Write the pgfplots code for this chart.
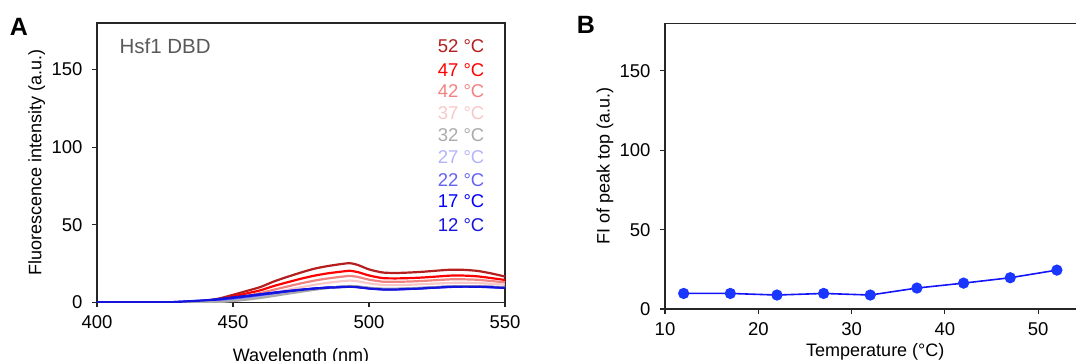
\documentclass[border=0pt]{standalone}
\usepackage{pgfplots}
\pgfplotsset{compat=1.18}
\usepackage{fontspec}
\setmainfont{Liberation Sans}
\definecolor{c52}{RGB}{180,30,30}
\definecolor{c47}{RGB}{255,0,0}
\definecolor{c42}{RGB}{240,130,130}
\definecolor{c37}{RGB}{248,200,200}
\definecolor{c32}{RGB}{170,170,170}
\definecolor{c27}{RGB}{180,180,250}
\definecolor{c22}{RGB}{100,100,240}
\definecolor{c17}{RGB}{0,0,255}
\definecolor{c12}{RGB}{20,20,220}
\definecolor{bline}{RGB}{20,20,250}
\definecolor{bmark}{RGB}{25,55,255}
\pgfplotsset{
  myax/.style={
    scale only axis,
    anchor=south west,
    axis line style={black!85, line width=1.3pt},
    tick style={black!85, line width=1.1pt},
    major tick length=5pt,
    tick align=outside,
    xtick pos=bottom, ytick pos=left,
    font=\fontsize{18}{21}\selectfont,
    tick label style={font=\fontsize{18.5}{21}\selectfont},
    yticklabel style={xshift=-6pt},
    xticklabel style={yshift=-5pt},
    /pgf/number format/assume math mode=true,
    ymin=0, ymax=180,
    ytick={0,50,100,150},
  }
}
\begin{document}
\begin{tikzpicture}
\useasboundingbox (0,0) rectangle (1076pt,361pt);
\node[font=\fontsize{25}{28}\selectfont\bfseries] at (19pt,334pt) {A};
\node[font=\fontsize{25}{28}\selectfont\bfseries] at (586pt,336pt) {B};
\begin{axis}[myax,
  at={(97pt,58.7pt)}, width=408pt, height=279.3pt,
  xmin=400, xmax=550, xtick={400,450,500,550},
  xlabel={Wavelength (nm)},
  ylabel={Fluorescence intensity (a.u.)},
  xlabel style={at={(axis description cs:0.5,-0.195)}, anchor=center},
  ylabel style={at={(axis description cs:-0.148,0.5)}, rotate=0, anchor=center},
  every axis plot/.append style={line width=2.2pt, smooth, tension=0.4},
]
\addplot[c52] coordinates {(400,0)(425,0)(430,0)(435,0)(440,0.8)(445,2.5)(450,4.8)(455,7.3)(460,9.8)(465,13.4)(470,16.4)(475,19.2)(480,21.7)(485,23.4)(490,24.7)(493,25.2)(496,24.0)(500,21.2)(505,19.2)(510,18.9)(515,19.2)(520,19.7)(525,20.4)(530,21.0)(535,20.9)(540,20.2)(545,18.6)(550,16.6)};
\addplot[c47] coordinates {(400,0)(425,0)(430,0)(435,0)(440,0.6)(445,1.9)(450,3.7)(455,5.7)(460,7.7)(465,10.5)(470,12.9)(475,15.2)(480,17.2)(485,18.7)(490,19.8)(493,20.3)(496,19.4)(500,17.3)(505,15.6)(510,15.4)(515,15.6)(520,16.0)(525,16.6)(530,17.2)(535,17.2)(540,16.7)(545,15.6)(550,14.4)};
\addplot[c42] coordinates {(400,0)(425,0)(430,0)(435,0)(440,0.3)(445,1.2)(450,2.6)(455,4.2)(460,5.9)(465,8.1)(470,10.2)(475,12.2)(480,14.0)(485,15.4)(490,16.5)(493,17.0)(496,16.3)(500,14.6)(505,13.3)(510,13.2)(515,13.4)(520,13.8)(525,14.3)(530,14.8)(535,14.8)(540,14.5)(545,13.7)(550,12.9)};
\addplot[c37] coordinates {(400,0)(425,0)(430,0)(435,0)(440,0.1)(445,0.7)(450,1.7)(455,3.0)(460,4.4)(465,6.2)(470,8.0)(475,9.7)(480,11.3)(485,12.6)(490,13.6)(493,14.0)(496,13.5)(500,12.2)(505,11.2)(510,11.1)(515,11.3)(520,11.7)(525,12.1)(530,12.5)(535,12.6)(540,12.4)(545,11.9)(550,11.4)};
\addplot[c27] coordinates {(400,0)(425,0)(430,0)(435,0)(440,0.2)(445,0.8)(450,1.7)(455,2.8)(460,4.0)(465,5.3)(470,6.5)(475,7.6)(480,8.6)(485,9.4)(490,10.0)(493,10.3)(496,10.0)(500,9.2)(505,8.6)(510,8.6)(515,8.9)(520,9.3)(525,9.8)(530,10.2)(535,10.4)(540,10.3)(545,10.0)(550,9.6)};
\addplot[c22] coordinates {(400,0)(425,0)(430,0)(435,0.2)(440,0.7)(445,1.4)(450,2.4)(455,3.4)(460,4.6)(465,5.8)(470,6.9)(475,7.9)(480,8.8)(485,9.5)(490,10.0)(493,10.2)(496,9.9)(500,9.1)(505,8.5)(510,8.5)(515,8.8)(520,9.2)(525,9.7)(530,10.1)(535,10.3)(540,10.2)(545,9.9)(550,9.5)};
\addplot[c17] coordinates {(400,0)(425,0)(430,0.3)(435,0.7)(440,1.2)(445,2.0)(450,3.0)(455,4.0)(460,5.1)(465,6.2)(470,7.2)(475,8.1)(480,8.9)(485,9.5)(490,9.9)(493,10.1)(496,9.8)(500,9.0)(505,8.4)(510,8.4)(515,8.7)(520,9.1)(525,9.6)(530,10.0)(535,10.2)(540,10.1)(545,9.8)(550,9.4)};
\addplot[c32] coordinates {(400,0)(425,0)(430,0)(435,0)(440,0)(445,0.2)(450,0.8)(455,1.7)(460,2.8)(465,4.1)(470,5.5)(475,6.8)(480,8.1)(485,9.2)(490,10.1)(493,10.5)(496,10.2)(500,9.4)(505,8.8)(510,8.8)(515,9.0)(520,9.4)(525,9.8)(530,10.2)(535,10.4)(540,10.3)(545,10.0)(550,9.7)};
\addplot[c12] coordinates {(400,0)(425,0)(430,0.3)(435,0.8)(440,1.3)(445,2.1)(450,3.1)(455,4.1)(460,5.1)(465,6.1)(470,7.1)(475,8.0)(480,8.8)(485,9.4)(490,9.8)(493,10.0)(496,9.7)(500,8.9)(505,8.3)(510,8.3)(515,8.6)(520,9.0)(525,9.5)(530,9.9)(535,10.1)(540,10.0)(545,9.7)(550,9.3)};
\node[anchor=west, text=black!65, font=\fontsize{20.5}{24}\selectfont] at (axis cs:407,164.8) {Hsf1 DBD};
\begin{scope}[every node/.style={anchor=east, font=\fontsize{18.5}{21}\selectfont}]
\node[text=c52] at (axis cs:543.7,164.8) {52 °C};
\node[text=c47] at (axis cs:543.7,149.5) {47 °C};
\node[text=c42] at (axis cs:543.7,136) {42 °C};
\node[text=c37] at (axis cs:543.7,121.6) {37 °C};
\node[text=c32] at (axis cs:543.7,107.5) {32 °C};
\node[text=c27] at (axis cs:543.7,93.8) {27 °C};
\node[text=c22] at (axis cs:543.7,79) {22 °C};
\node[text=c17] at (axis cs:543.7,65) {17 °C};
\node[text=c12] at (axis cs:543.7,49.5) {12 °C};
\end{scope}
\end{axis}
\begin{axis}[myax,
  at={(665pt,52pt)}, width=429.2pt, height=285.7pt,
  xmin=10, xmax=56, xtick={10,20,30,40,50},
  xlabel={Temperature (°C)},
  ylabel={FI of peak top (a.u.)},
  xlabel style={at={(axis description cs:0.49,-0.15)}, anchor=center},
  ylabel style={at={(axis description cs:-0.14,0.5)}, rotate=0, anchor=center},
  clip=false,
]
\addplot[bline, line width=1.6pt, mark=*, mark size=4.8pt, mark options={fill=bmark, draw=bmark}] coordinates {(12,9.8)(17,9.8)(22,8.8)(27,9.8)(32,8.8)(37,13.2)(42,16.3)(47,19.7)(52,24.5)};
\end{axis}
\end{tikzpicture}
\end{document}
